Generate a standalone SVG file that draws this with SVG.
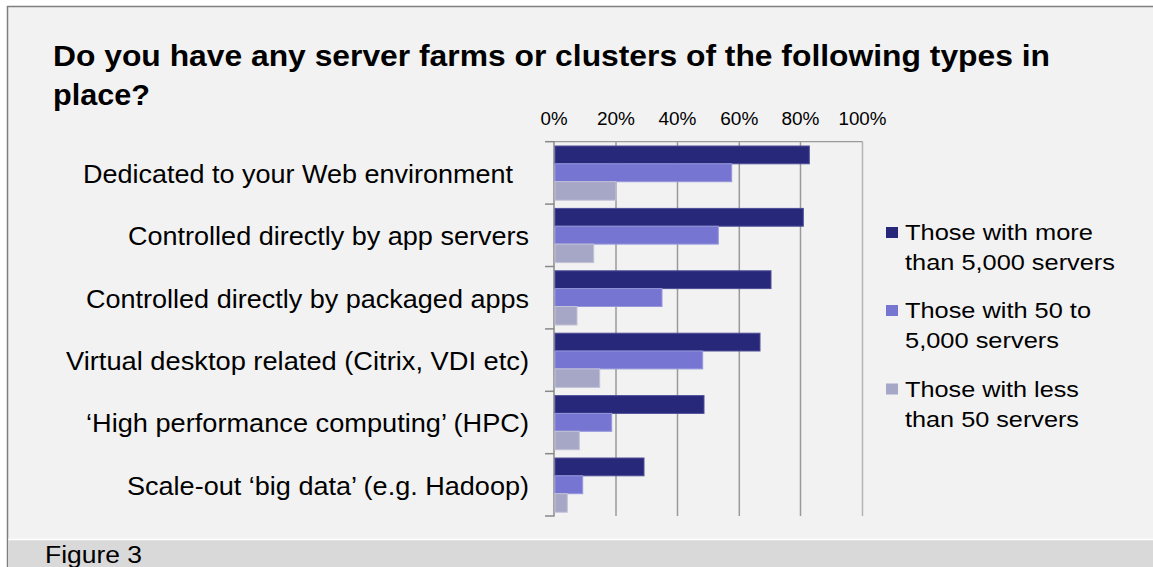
<svg xmlns="http://www.w3.org/2000/svg" width="1153" height="567" viewBox="0 0 1153 567">
<style>
text{font-family:"Liberation Sans",Arial,sans-serif;fill:#000}
.title{font-size:29px;font-weight:bold}
.cat{font-size:26px;text-anchor:end}
.ax{font-size:17.5px;text-anchor:middle}
.leg{font-size:22px}
.grid{stroke:#9a9a9a;stroke-width:1.5}
.d{fill:#28287b;stroke:#4e4e96;stroke-width:1}
.m{fill:#7676d2;stroke:#9696dc;stroke-width:1}
.l{fill:#a6a6c6;stroke:#c2c2d8;stroke-width:1}
</style>
<rect x="0" y="0" width="1153" height="567" fill="#ffffff"/>
<rect x="7.5" y="6.5" width="1160" height="570" fill="#f2f2f2" stroke="#7f7f7f" stroke-width="1.5"/>
<rect x="8.25" y="540" width="1150" height="27" fill="#d9d9d9"/>
<line x1="8.25" y1="539.5" x2="1153" y2="539.5" stroke="#ffffff" stroke-width="1.5"/>
<text x="45" y="562.5" style="font-size:23px" textLength="97" lengthAdjust="spacingAndGlyphs">Figure 3</text>
<g id="title">
<text class="title" x="53" y="66" textLength="997" lengthAdjust="spacingAndGlyphs">Do you have any server farms or clusters of the following types in</text>
<text class="title" x="53" y="105" textLength="97" lengthAdjust="spacingAndGlyphs">place?</text>
</g>
<g id="axis">
<line class="grid" x1="616" y1="141.7" x2="616" y2="516"/>
<line class="grid" x1="677.5" y1="141.7" x2="677.5" y2="516"/>
<line class="grid" x1="739.3" y1="141.7" x2="739.3" y2="516"/>
<line class="grid" x1="800.5" y1="141.7" x2="800.5" y2="516"/>
<line x1="862.5" y1="141.7" x2="862.5" y2="516" stroke="#b4b4b4" stroke-width="1.5"/>
<line x1="554" y1="141.7" x2="862.5" y2="141.7" stroke="#9a9a9a" stroke-width="1.2"/>
<line x1="554" y1="141" x2="554" y2="516.5" stroke="#888" stroke-width="1.5"/>
<g stroke="#888" stroke-width="1.5">
<line x1="545" y1="141.7" x2="554" y2="141.7"/>
<line x1="545" y1="204.1" x2="554" y2="204.1"/>
<line x1="545" y1="266.5" x2="554" y2="266.5"/>
<line x1="545" y1="328.9" x2="554" y2="328.9"/>
<line x1="545" y1="391.3" x2="554" y2="391.3"/>
<line x1="545" y1="453.7" x2="554" y2="453.7"/>
<line x1="545" y1="516" x2="554" y2="516"/>
</g>
<text class="ax" x="554" y="125" textLength="27" lengthAdjust="spacingAndGlyphs">0%</text>
<text class="ax" x="616" y="125" textLength="38" lengthAdjust="spacingAndGlyphs">20%</text>
<text class="ax" x="677.5" y="125" textLength="38" lengthAdjust="spacingAndGlyphs">40%</text>
<text class="ax" x="739.3" y="125" textLength="38" lengthAdjust="spacingAndGlyphs">60%</text>
<text class="ax" x="800.5" y="125" textLength="38" lengthAdjust="spacingAndGlyphs">80%</text>
<text class="ax" x="862.5" y="125" textLength="48" lengthAdjust="spacingAndGlyphs">100%</text>
</g>
<g id="cat1">
<text class="cat" x="513" y="182.7" textLength="430" lengthAdjust="spacingAndGlyphs">Dedicated to your Web environment</text>
<rect class="d" x="555" y="146" width="254.3" height="17.8"/>
<rect class="m" x="555" y="163.8" width="176.7" height="17.9"/>
<rect class="l" x="555" y="181.7" width="61" height="18.5"/>
</g>
<g id="cat2">
<text class="cat" x="529" y="245.1" textLength="401" lengthAdjust="spacingAndGlyphs">Controlled directly by app servers</text>
<rect class="d" x="555" y="208.4" width="248.3" height="17.8"/>
<rect class="m" x="555" y="226.2" width="163.3" height="17.9"/>
<rect class="l" x="555" y="244.1" width="38.7" height="18.5"/>
</g>
<g id="cat3">
<text class="cat" x="529" y="307.5" textLength="443" lengthAdjust="spacingAndGlyphs">Controlled directly by packaged apps</text>
<rect class="d" x="555" y="270.8" width="216" height="17.8"/>
<rect class="m" x="555" y="288.6" width="107" height="17.9"/>
<rect class="l" x="555" y="306.5" width="22" height="18.5"/>
</g>
<g id="cat4">
<text class="cat" x="529" y="369.9" textLength="463" lengthAdjust="spacingAndGlyphs">Virtual desktop related (Citrix, VDI etc)</text>
<rect class="d" x="555" y="333.2" width="205" height="17.8"/>
<rect class="m" x="555" y="351" width="147.7" height="17.9"/>
<rect class="l" x="555" y="368.9" width="44.7" height="18.5"/>
</g>
<g id="cat5">
<text class="cat" x="529" y="432.3" textLength="443" lengthAdjust="spacingAndGlyphs">‘High performance computing’ (HPC)</text>
<rect class="d" x="555" y="395.6" width="149" height="17.8"/>
<rect class="m" x="555" y="413.4" width="56.7" height="17.9"/>
<rect class="l" x="555" y="431.3" width="24.3" height="18.5"/>
</g>
<g id="cat6">
<text class="cat" x="529" y="494.7" textLength="402" lengthAdjust="spacingAndGlyphs">Scale-out ‘big data’ (e.g. Hadoop)</text>
<rect class="d" x="555" y="458" width="89" height="17.8"/>
<rect class="m" x="555" y="475.8" width="27.7" height="17.9"/>
<rect class="l" x="555" y="493.7" width="12.3" height="18.5"/>
</g>
<g id="legend">
<rect x="886" y="227" width="12" height="11" fill="#28287b"/>
<text class="leg" x="905" y="240" textLength="188" lengthAdjust="spacingAndGlyphs">Those with more</text>
<text class="leg" x="905" y="270" textLength="210" lengthAdjust="spacingAndGlyphs">than 5,000 servers</text>
<rect x="886" y="305" width="12" height="11" fill="#7676d2"/>
<text class="leg" x="905" y="318.3" textLength="186" lengthAdjust="spacingAndGlyphs">Those with 50 to</text>
<text class="leg" x="905" y="348.3" textLength="154" lengthAdjust="spacingAndGlyphs">5,000 servers</text>
<rect x="886" y="383.5" width="12" height="11" fill="#a6a6c6"/>
<text class="leg" x="905" y="396.7" textLength="174" lengthAdjust="spacingAndGlyphs">Those with less</text>
<text class="leg" x="905" y="426.7" textLength="174" lengthAdjust="spacingAndGlyphs">than 50 servers</text>
</g>
</svg>
